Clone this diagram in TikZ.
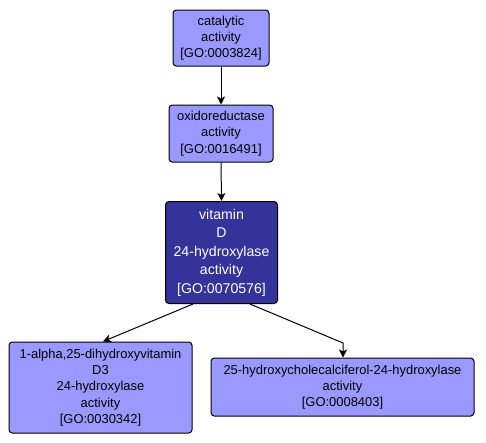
\documentclass[tikz,border=0pt]{standalone}
\usepackage{fontspec}
\setmainfont{Liberation Sans}
\usetikzlibrary{arrows.meta}
\definecolor{lightgo}{HTML}{9999FF}
\definecolor{darkgo}{HTML}{333399}
\begin{document}
\begin{tikzpicture}[x=0.75pt,y=-0.75pt,
  goterm/.style={draw=black, line width=0.75pt, rounded corners=2.5pt, fill=lightgo, align=center,
    inner sep=0pt, font=\fontsize{9.7}{12.2}\selectfont, text=black},
  godark/.style={goterm, fill=darkgo, text=white, font=\fontsize{10.6}{13.9}\selectfont},
  edge/.style={draw=black, line width=0.75pt, -{Stealth[length=6pt,width=6pt,inset=1.5pt]}}]
\useasboundingbox (0,0) rectangle (486,443);
\fill[white] (0,0) rectangle (486,443);
\node[goterm, minimum width=96*0.75pt, minimum height=56*0.75pt] (cat) at (221,38) {catalytic\\activity\\{[GO:0003824]}};
\node[goterm, minimum width=104*0.75pt, minimum height=57*0.75pt] (oxi) at (221,133.5) {oxidoreductase\\activity\\{[GO:0016491]}};
\node[godark, minimum width=112*0.75pt, minimum height=102*0.75pt] (vd) at (221.5,252.5) {vitamin\\D\\24-hydroxylase\\activity\\{[GO:0070576]}};
\node[goterm, minimum width=183*0.75pt, minimum height=91*0.75pt] (alpha) at (100.5,387.5) {1-alpha,25-dihydroxyvitamin\\D3\\24-hydroxylase\\activity\\{[GO:0030342]}};
\node[goterm, minimum width=263*0.75pt, minimum height=58*0.75pt] (hyd) at (342.5,387) {25-hydroxycholecalciferol-24-hydroxylase\\activity\\{[GO:0008403]}};
\coordinate (bend) at (343,343);
\draw[edge] (cat.south) -- (oxi.north);
\draw[edge] (oxi.south) -- (vd.north);
\draw[edge] (vd.south -| 193,0) -- (alpha.north -| 103,0);
\draw[edge] (vd.south -| 250,0) -- (bend) -- (hyd.north -| bend);
\end{tikzpicture}
\end{document}
